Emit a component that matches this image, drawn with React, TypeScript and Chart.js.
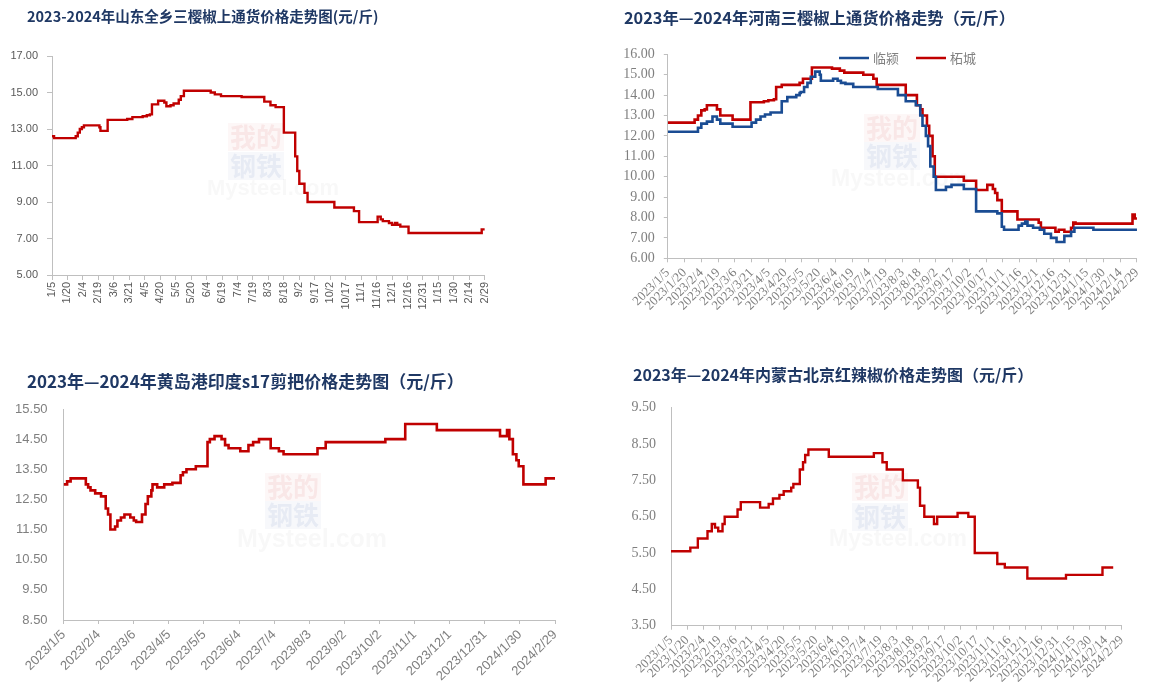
import React, { useEffect, useRef } from 'react';
import { Chart, registerables } from 'chart.js';

Chart.register(...registerables);

// ---------- tick labels ----------
const ticks15 = ['2023/1/5', '2023/1/20', '2023/2/4', '2023/2/19', '2023/3/6', '2023/3/21', '2023/4/5', '2023/4/20', '2023/5/5', '2023/5/20', '2023/6/4', '2023/6/19', '2023/7/4', '2023/7/19', '2023/8/3', '2023/8/18', '2023/9/2', '2023/9/17', '2023/10/2', '2023/10/17', '2023/11/1', '2023/11/16', '2023/12/1', '2023/12/16', '2023/12/31', '2024/1/15', '2024/1/30', '2024/2/14', '2024/2/29'];
const ticks30 = ['2023/1/5', '2023/2/4', '2023/3/6', '2023/4/5', '2023/5/5', '2023/6/4', '2023/7/4', '2023/8/3', '2023/9/2', '2023/10/2', '2023/11/1', '2023/12/1', '2023/12/31', '2024/1/30', '2024/2/29'];

const yTicksSD = [5, 7, 9, 11, 13, 15, 17];
const yTicksHN = [6, 7, 8, 9, 10, 11, 12, 13, 14, 15, 16];
const yTicksHD = [8.5, 9.5, 10.5, 11.5, 12.5, 13.5, 14.5, 15.5];
const yTicksNM = [3.5, 4.5, 5.5, 6.5, 7.5, 8.5, 9.5];

// ---------- chart 1: 山东全乡三樱椒 ----------
const sdDates = ['2023/1/5', '2023/1/7', '2023/1/28', '2023/1/30', '2023/2/1', '2023/2/3', '2023/2/5', '2023/2/20', '2023/2/21', '2023/2/28', '2023/3/19', '2023/3/24', '2023/4/3', '2023/4/7', '2023/4/10', '2023/4/12', '2023/4/18', '2023/4/24', '2023/4/26', '2023/4/30', '2023/5/3', '2023/5/8', '2023/5/10', '2023/5/13', '2023/6/8', '2023/6/12', '2023/6/18', '2023/7/8', '2023/7/30', '2023/8/5', '2023/8/10', '2023/8/18', '2023/8/29', '2023/8/31', '2023/9/2', '2023/9/7', '2023/9/10', '2023/10/6', '2023/10/25', '2023/10/30', '2023/11/17', '2023/11/20', '2023/11/22', '2023/11/28', '2023/12/1', '2023/12/4', '2023/12/6', '2023/12/9', '2023/12/17', '2024/2/26', '2024/2/29'];
const sdPrices = [12.6, 12.5, 12.6, 12.8, 13.0, 13.1, 13.2, 13.1, 12.9, 13.5, 13.55, 13.65, 13.7, 13.75, 13.8, 14.35, 14.55, 14.45, 14.25, 14.3, 14.4, 14.6, 14.8, 15.1, 15.0, 14.9, 14.8, 14.75, 14.5, 14.3, 14.2, 12.8, 11.5, 10.7, 10.0, 9.5, 9.0, 8.7, 8.5, 7.9, 8.2, 8.05, 7.95, 7.85, 7.75, 7.85, 7.75, 7.65, 7.3, 7.5, 7.5];

// ---------- chart 2: 河南三樱椒 (临颍 / 柘城) ----------
const lyDates = ['2023/1/5', '2023/2/1', '2023/2/4', '2023/2/9', '2023/2/14', '2023/2/18', '2023/2/21', '2023/3/4', '2023/3/21', '2023/3/25', '2023/3/29', '2023/4/2', '2023/4/7', '2023/4/17', '2023/4/22', '2023/4/30', '2023/5/3', '2023/5/4', '2023/5/7', '2023/5/10', '2023/5/13', '2023/5/17', '2023/5/21', '2023/5/22', '2023/6/2', '2023/6/6', '2023/6/9', '2023/6/13', '2023/6/20', '2023/7/12', '2023/7/30', '2023/8/6', '2023/8/15', '2023/8/19', '2023/8/21', '2023/8/24', '2023/8/26', '2023/8/28', '2023/8/31', '2023/9/2', '2023/9/11', '2023/9/16', '2023/9/27', '2023/10/8', '2023/10/27', '2023/10/31', '2023/11/2', '2023/11/15', '2023/11/18', '2023/11/21', '2023/11/23', '2023/11/28', '2023/12/4', '2023/12/8', '2023/12/14', '2023/12/19', '2023/12/26', '2024/1/1', '2024/1/4', '2024/1/21', '2024/2/29'];
const lyPrices = [12.2, 12.4, 12.6, 12.7, 12.95, 12.8, 12.6, 12.45, 12.65, 12.8, 12.95, 13.05, 13.15, 13.7, 13.9, 14.0, 14.1, 14.15, 14.4, 14.6, 14.9, 15.15, 15.0, 14.7, 14.8, 14.7, 14.6, 14.55, 14.4, 14.3, 14.0, 13.7, 13.5, 13.0, 12.5, 12.0, 11.5, 10.5, 10.0, 9.35, 9.5, 9.6, 9.4, 8.3, 8.2, 7.55, 7.4, 7.6, 7.7, 7.8, 7.6, 7.5, 7.4, 7.2, 7.0, 6.8, 7.1, 7.3, 7.5, 7.4, 7.4];
const zcDates = ['2023/1/5', '2023/1/29', '2023/2/1', '2023/2/4', '2023/2/7', '2023/2/9', '2023/2/18', '2023/2/21', '2023/3/4', '2023/3/20', '2023/4/1', '2023/4/5', '2023/4/10', '2023/4/12', '2023/4/17', '2023/5/3', '2023/5/6', '2023/5/14', '2023/6/1', '2023/6/8', '2023/6/12', '2023/6/29', '2023/7/8', '2023/7/11', '2023/8/6', '2023/8/16', '2023/8/19', '2023/8/21', '2023/8/25', '2023/8/27', '2023/8/30', '2023/9/1', '2023/9/27', '2023/10/8', '2023/10/18', '2023/10/23', '2023/10/25', '2023/10/27', '2023/10/31', '2023/11/14', '2023/12/3', '2023/12/5', '2023/12/18', '2023/12/21', '2023/12/26', '2024/1/1', '2024/1/3', '2024/1/5', '2024/2/25', '2024/2/27', '2024/2/29'];
const zcPrices = [12.65, 12.8, 13.0, 13.25, 13.3, 13.5, 13.3, 13.0, 12.8, 13.65, 13.7, 13.75, 13.8, 14.4, 14.5, 14.6, 14.8, 15.35, 15.3, 15.2, 15.1, 15.0, 14.8, 14.5, 14.0, 13.5, 13.3, 13.0, 12.5, 12.0, 11.0, 10.0, 9.8, 9.35, 9.6, 9.4, 9.2, 8.85, 8.3, 7.9, 7.75, 7.5, 7.3, 7.4, 7.3, 7.5, 7.75, 7.7, 8.15, 7.95, 7.95];

// ---------- chart 3: 黄岛港印度s17剪把 ----------
const hdDates = ['2023/1/5', '2023/1/8', '2023/1/11', '2023/1/24', '2023/1/26', '2023/1/28', '2023/2/1', '2023/2/6', '2023/2/10', '2023/2/12', '2023/2/14', '2023/2/18', '2023/2/20', '2023/2/23', '2023/2/26', '2023/3/3', '2023/3/6', '2023/3/8', '2023/3/13', '2023/3/16', '2023/3/18', '2023/3/21', '2023/3/22', '2023/3/26', '2023/4/1', '2023/4/8', '2023/4/15', '2023/4/17', '2023/4/20', '2023/4/28', '2023/5/8', '2023/5/10', '2023/5/14', '2023/5/20', '2023/5/23', '2023/5/26', '2023/6/5', '2023/6/12', '2023/6/16', '2023/6/21', '2023/7/1', '2023/7/8', '2023/7/12', '2023/8/10', '2023/8/17', '2023/10/7', '2023/10/24', '2023/11/20', '2024/1/13', '2024/1/19', '2024/1/21', '2024/1/24', '2024/1/27', '2024/1/29', '2024/2/2', '2024/2/21', '2024/2/29'];
const hdPrices = [13.0, 13.1, 13.2, 13.0, 12.9, 12.8, 12.7, 12.6, 12.2, 12.0, 11.5, 11.6, 11.8, 11.9, 12.0, 11.9, 11.8, 11.75, 12.0, 12.35, 12.6, 12.8, 13.0, 12.9, 13.0, 13.05, 13.3, 13.4, 13.5, 13.6, 14.4, 14.5, 14.6, 14.5, 14.3, 14.2, 14.1, 14.3, 14.4, 14.5, 14.2, 14.1, 14.0, 14.2, 14.4, 14.5, 15.0, 14.8, 14.6, 14.8, 14.5, 14.0, 13.8, 13.6, 13.0, 13.2, 13.2];

// ---------- chart 4: 内蒙古北京红辣椒 ----------
const nmDates = ['2023/1/5', '2023/1/23', '2023/1/30', '2023/2/8', '2023/2/12', '2023/2/15', '2023/2/18', '2023/2/22', '2023/2/24', '2023/3/8', '2023/3/11', '2023/3/29', '2023/4/6', '2023/4/10', '2023/4/16', '2023/4/20', '2023/4/27', '2023/4/29', '2023/5/5', '2023/5/8', '2023/5/10', '2023/5/13', '2023/6/1', '2023/7/13', '2023/7/21', '2023/7/25', '2023/8/9', '2023/8/23', '2023/8/25', '2023/8/29', '2023/9/7', '2023/9/10', '2023/9/29', '2023/10/9', '2023/10/15', '2023/11/5', '2023/11/12', '2023/12/3', '2024/1/8', '2024/2/11', '2024/2/21'];
const nmPrices = [5.55, 5.65, 5.9, 6.1, 6.3, 6.2, 6.1, 6.3, 6.5, 6.7, 6.9, 6.75, 6.85, 7.0, 7.1, 7.2, 7.3, 7.4, 7.8, 8.0, 8.2, 8.35, 8.15, 8.25, 8.0, 7.8, 7.5, 7.3, 6.8, 6.5, 6.3, 6.5, 6.6, 6.5, 5.5, 5.2, 5.1, 4.8, 4.9, 5.1, 5.1];

// ---------- helpers ----------
const START = Date.UTC(2023, 0, 5);
const dayOf = (s: string) => {
  const [y, m, d] = s.split('/').map(Number);
  return Math.round((Date.UTC(y, m - 1, d) - START) / 86400000);
};

const RED = '#C00000';
const BLUE = '#1A4C93';
const AXIS = '#BFBFBF';
const TITLE = '#1F3864';
const CJK = "'Noto Sans CJK SC', sans-serif";
const SANS = "'Liberation Sans', Arial, sans-serif";
const SERIF = "'Liberation Serif', 'Times New Roman', serif";

type Series = { label: string; dates: string[]; values: number[]; color: string; width: number };
type LegendItem = { x1: number; x2: number; tx: number; y: number };
type Spec = {
  left: number; top: number; w: number; h: number;
  title: string; titleSize: number; titleX: number; titleY: number;
  padTop: number; padRight: number;
  yWidth: number; xHeight: number;
  yMin: number; yMax: number; yTicks: number[];
  yFont: { family: string; size: number }; yColor: string; yTickLen: number; yPad: number;
  xTicks: string[]; xFmt: (s: string) => string; xRot: number;
  xFont: { family: string; size: number }; xColor: string; xTickLen: number; xPad: number;
  series: Series[]; legend?: LegendItem[];
  mark: { cx: number; y1: number; y2: number; y3: number; mx: number; ms: number };
};

// title drawn at a fixed spot, left aligned
const titlePlugin = {
  id: 'posTitle',
  afterDraw(chart: any, _args: any, opts: any) {
    const ctx = chart.ctx;
    ctx.save();
    ctx.fillStyle = TITLE;
    ctx.font = `bold ${opts.size}px ${CJK}`;
    ctx.textBaseline = 'middle';
    ctx.textAlign = 'left';
    ctx.fillText(opts.text, opts.x, opts.y);
    ctx.restore();
  },
};

// faint "我的钢铁 Mysteel.com" watermark
const watermarkPlugin = {
  id: 'watermark',
  beforeDatasetsDraw(chart: any, _args: any, opts: any) {
    const ctx = chart.ctx;
    ctx.save();
    ctx.textAlign = 'center';
    ctx.textBaseline = 'middle';
    ctx.fillStyle = 'rgba(200, 30, 30, 0.035)';
    ctx.fillRect(opts.cx - 28, opts.y1 - 14, 56, 28);
    ctx.fillStyle = 'rgba(30, 70, 150, 0.035)';
    ctx.fillRect(opts.cx - 28, opts.y2 - 14, 56, 28);
    ctx.font = `bold 26px ${CJK}`;
    ctx.fillStyle = 'rgba(200, 30, 30, 0.07)';
    ctx.fillText('我的', opts.cx, opts.y1);
    ctx.fillStyle = 'rgba(30, 70, 150, 0.07)';
    ctx.fillText('钢铁', opts.cx, opts.y2);
    ctx.font = `bold ${opts.ms}px ${SANS}`;
    ctx.fillStyle = 'rgba(120, 120, 120, 0.05)';
    ctx.fillText('Mysteel.com', opts.mx, opts.y3);
    ctx.restore();
  },
};

const legendPlugin = {
  id: 'inlineLegend',
  afterDraw(chart: any, _args: any, opts: any) {
    const items: LegendItem[] = opts.items || [];
    const ctx = chart.ctx;
    chart.data.datasets.forEach((ds: any, i: number) => {
      const it = items[i];
      if (!it) return;
      ctx.save();
      ctx.strokeStyle = ds.borderColor;
      ctx.lineWidth = 2.5;
      ctx.beginPath();
      ctx.moveTo(it.x1, it.y);
      ctx.lineTo(it.x2, it.y);
      ctx.stroke();
      ctx.fillStyle = '#808080';
      ctx.font = `13px ${CJK}`;
      ctx.textBaseline = 'middle';
      ctx.textAlign = 'left';
      ctx.fillText(ds.label, it.tx, it.y);
      ctx.restore();
    });
  },
};

function buildConfig(s: Spec): any {
  const xTickDays = s.xTicks.map(dayOf);
  return {
    type: 'line',
    data: {
      datasets: s.series.map((se) => ({
        label: se.label,
        data: se.dates.map((d, i) => ({ x: dayOf(d), y: se.values[i] })),
        borderColor: se.color,
        backgroundColor: se.color,
        borderWidth: se.width,
        pointRadius: 0,
        stepped: true,
        fill: false,
      })),
    },
    options: {
      animation: false,
      responsive: false,
      devicePixelRatio: 1,
      layout: { padding: { left: 0, right: s.padRight, top: s.padTop, bottom: 0 } },
      plugins: {
        legend: { display: false },
        tooltip: { enabled: false },
        title: { display: false },
        posTitle: { text: s.title, size: s.titleSize, x: s.titleX, y: s.titleY },
        watermark: s.mark,
        inlineLegend: { items: s.legend || [] },
      },
      scales: {
        x: {
          type: 'linear',
          min: 0,
          max: 420,
          afterBuildTicks: (sc: any) => { sc.ticks = xTickDays.map((v) => ({ value: v })); },
          afterFit: (sc: any) => { sc.height = s.xHeight; },
          ticks: {
            autoSkip: false,
            minRotation: s.xRot,
            maxRotation: s.xRot,
            padding: s.xPad,
            color: s.xColor,
            font: s.xFont,
            callback: (_v: any, i: number) => s.xFmt(s.xTicks[i]),
          },
          grid: { display: true, drawOnChartArea: false, drawTicks: s.xTickLen > 0, tickLength: s.xTickLen, color: AXIS },
          border: { display: true, color: AXIS, width: 1 },
        },
        y: {
          type: 'linear',
          min: s.yMin,
          max: s.yMax,
          afterBuildTicks: (sc: any) => { sc.ticks = s.yTicks.map((v) => ({ value: v })); },
          afterFit: (sc: any) => { sc.width = s.yWidth; },
          ticks: {
            padding: s.yPad,
            color: s.yColor,
            font: s.yFont,
            callback: (v: any) => Number(v).toFixed(2),
          },
          grid: { display: true, drawOnChartArea: false, drawTicks: s.yTickLen > 0, tickLength: s.yTickLen, color: AXIS },
          border: { display: true, color: AXIS, width: 1 },
        },
      },
    },
    plugins: [watermarkPlugin, titlePlugin, legendPlugin],
  };
}

const stripYear = (s: string) => s.split('/').slice(1).join('/');
const keep = (s: string) => s;

const specs: Spec[] = [
  {
    left: 0, top: 0, w: 500, h: 340,
    title: '2023-2024年山东全乡三樱椒上通货价格走势图(元/斤)', titleSize: 14.5, titleX: 27, titleY: 16,
    padTop: 56, padRight: 11, yWidth: 52, xHeight: 65,
    yMin: 5, yMax: 17, yTicks: yTicksSD,
    yFont: { family: SANS, size: 11 }, yColor: '#595959', yTickLen: 5, yPad: 9,
    xTicks: ticks15, xFmt: stripYear, xRot: 90,
    xFont: { family: SANS, size: 11 }, xColor: '#595959', xTickLen: 5, xPad: 2,
    series: [{ label: '山东全乡', dates: sdDates, values: sdPrices, color: RED, width: 2.4 }],
    mark: { cx: 256, y1: 137, y2: 166, y3: 189, mx: 273, ms: 22 },
  },
  {
    left: 600, top: 0, w: 551, h: 340,
    title: '2023年—2024年河南三樱椒上通货价格走势（元/斤）', titleSize: 16.3, titleX: 24, titleY: 18,
    padTop: 54.3, padRight: 4.5, yWidth: 67.8, xHeight: 81.7,
    yMin: 6, yMax: 16, yTicks: yTicksHN,
    yFont: { family: SERIF, size: 14 }, yColor: '#7F7F7F', yTickLen: 4, yPad: 9,
    xTicks: ticks15, xFmt: keep, xRot: 45,
    xFont: { family: SERIF, size: 13 }, xColor: '#7F7F7F', xTickLen: 4, xPad: 3,
    series: [
      { label: '临颍', dates: lyDates, values: lyPrices, color: BLUE, width: 2.6 },
      { label: '柘城', dates: zcDates, values: zcPrices, color: RED, width: 2.6 },
    ],
    legend: [
      { x1: 239, x2: 269, tx: 273, y: 58 },
      { x1: 316, x2: 346, tx: 350, y: 58 },
    ],
    mark: { cx: 292, y1: 128, y2: 156, y3: 180, mx: 300, ms: 23 },
  },
  {
    left: 0, top: 340, w: 570, h: 347,
    title: '2023年—2024年黄岛港印度s17剪把价格走势图（元/斤）', titleSize: 17, titleX: 27, titleY: 42,
    padTop: 69, padRight: 15, yWidth: 63.6, xHeight: 67,
    yMin: 8.5, yMax: 15.5, yTicks: yTicksHD,
    yFont: { family: SANS, size: 13 }, yColor: '#7F7F7F', yTickLen: 0, yPad: 16,
    xTicks: ticks30, xFmt: keep, xRot: 45,
    xFont: { family: SANS, size: 13 }, xColor: '#7F7F7F', xTickLen: 4, xPad: 3,
    series: [{ label: '黄岛港', dates: hdDates, values: hdPrices, color: RED, width: 2.6 }],
    mark: { cx: 293, y1: 147, y2: 175, y3: 200, mx: 312, ms: 25 },
  },
  {
    left: 600, top: 340, w: 551, h: 347,
    title: '2023年—2024年内蒙古北京红辣椒价格走势图（元/斤）', titleSize: 16, titleX: 33, titleY: 35,
    padTop: 67.7, padRight: 29.2, yWidth: 71, xHeight: 61.3,
    yMin: 3.5, yMax: 9.5, yTicks: yTicksNM,
    yFont: { family: SERIF, size: 14 }, yColor: '#7F7F7F', yTickLen: 0, yPad: 15,
    xTicks: ticks15, xFmt: keep, xRot: 45,
    xFont: { family: SERIF, size: 13 }, xColor: '#7F7F7F', xTickLen: 4, xPad: 3,
    series: [{ label: '内蒙古', dates: nmDates, values: nmPrices, color: RED, width: 2.4 }],
    mark: { cx: 280, y1: 147, y2: 177, y3: 200, mx: 298, ms: 23 },
  },
];

function ChartBox({ spec }: { spec: Spec }) {
  const ref = useRef<HTMLCanvasElement>(null);
  useEffect(() => {
    if (!ref.current) return;
    const chart = new Chart(ref.current, buildConfig(spec));
    return () => chart.destroy();
  }, [spec]);
  return (
    <canvas
      ref={ref}
      width={spec.w}
      height={spec.h}
      style={{ position: 'absolute', left: spec.left, top: spec.top, width: spec.w, height: spec.h }}
    />
  );
}

export default function App() {
  return (
    <div style={{ position: 'fixed', left: 0, top: 0, width: 1151, height: 687, background: '#FFFFFF', overflow: 'hidden' }}>
      {specs.map((s, i) => (
        <ChartBox key={i} spec={s} />
      ))}
    </div>
  );
}
